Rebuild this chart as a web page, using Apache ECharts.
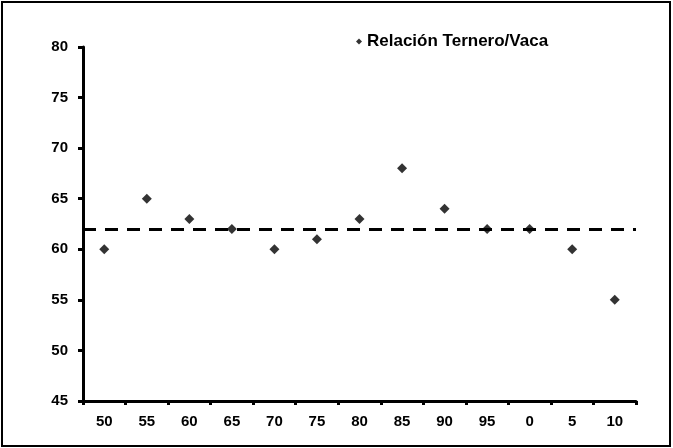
<!DOCTYPE html>
<html>
<head>
<meta charset="utf-8">
<script src="https://cdn.jsdelivr.net/npm/echarts@6/dist/echarts.min.js"></script>
<style>
  html, body { margin: 0; padding: 0; background: #fff; }
  #chart { width: 673px; height: 448px; }
</style>
</head>
<body>
<div id="chart"></div>
<script>
// Years (two-digit), relación ternero/vaca
const years = ['50', '55', '60', '65', '70', '75', '80', '85', '90', '95', '0', '5', '10']
const ratio = [60, 65, 63, 62, 60, 61, 63, 68, 64, 62, 62, 60, 55]
const refLevel = 62
const seriesName = 'Relación Ternero/Vaca'

const font = 'Arial, "Liberation Sans", sans-serif'

const chart = echarts.init(document.getElementById('chart'))

const option = {
  backgroundColor: '#fff',
  animation: false,
  graphic: [
    {
      type: 'rect',
      shape: { x: 2, y: 2, width: 668, height: 444 },
      style: { fill: 'none', stroke: '#000', lineWidth: 2 },
      silent: true
    }
  ],
  legend: {
    data: [seriesName],
    left: 351,
    top: 28,
    icon: 'diamond',
    itemWidth: 6,
    itemHeight: 6,
    itemGap: 4,
    textStyle: { color: '#000', fontFamily: font, fontWeight: 'bold', fontSize: 17 }
  },
  grid: {
    left: 83,
    right: 37,
    top: 47,
    bottom: 47
  },
  xAxis: {
    type: 'category',
    data: years,
    boundaryGap: true,
    axisLine: { lineStyle: { color: '#000', width: 3 } },
    axisTick: { show: true, length: 4, lineStyle: { color: '#000', width: 3 } },
    axisLabel: { color: '#000', fontFamily: font, fontWeight: 'bold', fontSize: 15, margin: 13 },
    splitLine: { show: false }
  },
  yAxis: {
    type: 'value',
    min: 45,
    max: 80,
    interval: 5,
    axisLine: { show: true, lineStyle: { color: '#000', width: 3 } },
    axisTick: { show: true, length: 5, lineStyle: { color: '#000', width: 3 } },
    axisLabel: { color: '#000', fontFamily: font, fontWeight: 'bold', fontSize: 15, margin: 15 },
    splitLine: { show: false }
  },
  series: [
    {
      name: seriesName,
      type: 'scatter',
      data: ratio,
      symbol: 'diamond',
      symbolSize: 10,
      itemStyle: { color: '#000' },
      markLine: {
        silent: true,
        symbol: ['none', 'none'],
        label: { show: false },
        lineStyle: { color: '#000', width: 3, type: [13, 9] },
        data: [{ yAxis: refLevel }]
      }
    }
  ]
}

chart.setOption(option)
</script>
</body>
</html>
